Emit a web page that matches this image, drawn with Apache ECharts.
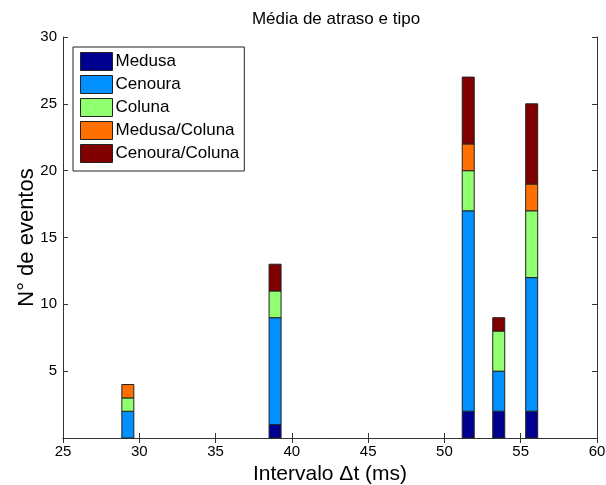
<!DOCTYPE html>
<html><head><meta charset="utf-8">
<script src="https://cdn.jsdelivr.net/npm/echarts@6/dist/echarts.min.js"></script>
<style>html,body{margin:0;padding:0;background:#fff}#c{width:606px;height:485px}</style>
</head><body><div id="c"></div>
<script>
const xPositions = [29.25, 38.9, 51.56, 53.56, 55.72];
const medusa = [0, 1, 2, 2, 2];
const cenoura = [2, 8, 15, 3, 10];
const coluna = [1, 2, 3, 3, 5];
const medusaColuna = [1, 0, 2, 0, 2];
const cenouraColuna = [0, 2, 5, 1, 6];
const seriesNames = ['Medusa', 'Cenoura', 'Coluna', 'Medusa/Coluna', 'Cenoura/Coluna'];
const seriesColors = ['#000090', '#0090FF', '#90FF70', '#FF7000', '#800000'];
const xTicks = [25, 30, 35, 40, 45, 50, 55, 60];
const yTicks = [0, 5, 10, 15, 20, 25, 30];

const allValues = [medusa, cenoura, coluna, medusaColuna, cenouraColuna];
const font = 'Liberation Sans, Arial, sans-serif';
const BAR_W = 12;
const chart = echarts.init(document.getElementById('c'));

// stacked segments [x, bottom, top]
const base = xPositions.map(() => 0);
const series = allValues.map((vals, i) => {
  const data = xPositions.map((x, j) => {
    const b = base[j];
    base[j] += vals[j];
    return [x, b, base[j]];
  });
  return {
    name: seriesNames[i], type: 'custom', xAxisIndex: 0, yAxisIndex: 0,
    itemStyle: { color: seriesColors[i] },
    encode: { x: 0, y: [1, 2] },
    data: data,
    renderItem: (params, api) => {
      const x = api.value(0), y0 = api.value(1), y1 = api.value(2);
      if (y1 === y0) return null;
      const p0 = api.coord([x, y0]);
      const p1 = api.coord([x, y1]);
      return {
        type: 'rect',
        shape: { x: p0[0] - BAR_W / 2, y: p1[1], width: BAR_W, height: p0[1] - p1[1] },
        style: { fill: seriesColors[i], stroke: '#222', lineWidth: 1 }
      };
    }
  };
});
const axLine = { show: true, lineStyle: { color: '#333', width: 1 } };
const tick = { show: true, inside: true, length: 5, lineStyle: { color: '#333' } };
chart.setOption({
  animation: false,
  title: { text: 'Média de atraso e tipo', left: 331, top: 6, textAlign: 'center',
    textStyle: { fontFamily: font, fontSize: 17, fontWeight: 'normal', color: '#000' } },
  legend: {
    orient: 'vertical', left: 73, top: 47, padding: [5, 5, 8, 7],
    itemWidth: 32, itemHeight: 18, itemGap: 4,
    backgroundColor: '#fff', borderColor: '#222', borderWidth: 1, borderRadius: 0,
    textStyle: { fontFamily: font, fontSize: 17, lineHeight: 18, color: '#000', padding: [0, 0, 0, -2] },
    itemStyle: { borderColor: '#222', borderWidth: 1 },
    data: seriesNames.map((n, i) => ({ name: n, icon: 'rect', itemStyle: { color: seriesColors[i], borderColor: '#222', borderWidth: 1 } }))
  },
  grid: { left: 63, right: 9, top: 37, bottom: 47, containLabel: false, outerBoundsMode: 'none' },
  xAxis: [{
    type: 'value', min: xTicks[0], max: xTicks[xTicks.length - 1], interval: 5,
    name: 'Intervalo Δt (ms)', nameLocation: 'middle', nameGap: 21,
    nameTextStyle: { fontFamily: font, fontSize: 21, color: '#000' },
    axisLine: axLine, axisTick: tick,
    axisLabel: { fontFamily: font, fontSize: 15, color: '#000', margin: 6 },
    splitLine: { show: false }
  }, {
    type: 'value', position: 'top', min: xTicks[0], max: xTicks[xTicks.length - 1], interval: 5,
    axisLine: axLine, axisTick: tick,
    axisLabel: { show: false }, splitLine: { show: false }
  }],
  yAxis: [{
    type: 'value', min: yTicks[0], max: yTicks[yTicks.length - 1], interval: 5,
    name: 'N° de eventos', nameLocation: 'middle', nameGap: 25, nameRotate: 90, nameMoveOverlap: false,
    nameTextStyle: { fontFamily: font, fontSize: 22, color: '#000' },
    axisLine: axLine, axisTick: tick,
    axisLabel: { fontFamily: font, fontSize: 15, color: '#000', margin: 6,
      formatter: v => v === 0 ? '' : String(v) },
    splitLine: { show: false }
  }, {
    type: 'value', position: 'right', min: yTicks[0], max: yTicks[yTicks.length - 1], interval: 5,
    axisLine: axLine, axisTick: tick,
    axisLabel: { show: false }, splitLine: { show: false }
  }],
  series: series
});
</script></body></html>
